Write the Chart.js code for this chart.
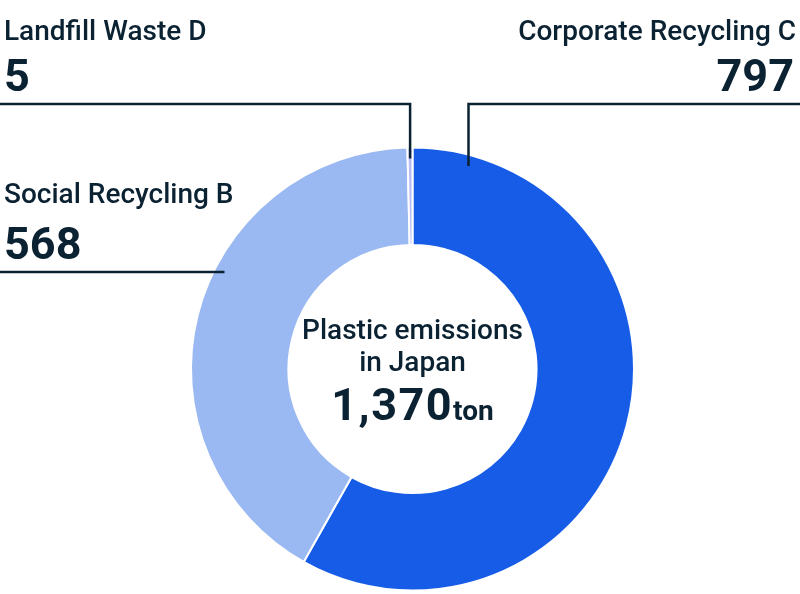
<!DOCTYPE html>
<html>
<head>
<meta charset="utf-8">
<script src="https://cdn.jsdelivr.net/npm/chart.js@4"></script>
<style>
html,body{margin:0;padding:0;background:#fff;}
#wrap{position:relative;width:800px;height:594px;}
</style>
</head>
<body>
<div id="wrap"><canvas id="c" width="800" height="594"></canvas></div>
<script>
const categories = ['Corporate Recycling C', 'Social Recycling B', 'Landfill Waste D'];
const values = [797, 568, 5];
const valueLabels = ['797', '568', '5'];
const colors = ['#175ce6', '#9ab8f2', '#b7bbf7'];
const centerLines = ['Plastic emissions', 'in Japan'];
const totalLabel = '1,370';
const unitLabel = 'ton';

const TEXT = '#0b2233';
const FONT = 'Roboto, "Noto Sans", sans-serif';

const annot = {
  id: 'annot',
  afterDraw(chart) {
    const ctx = chart.ctx;
    const arcs = chart.getDatasetMeta(0).data;
    const a0 = arcs[0];
    const cx = a0.x, cy = a0.y, R = a0.outerRadius;
    ctx.save();
    ctx.fillStyle = TEXT;
    ctx.strokeStyle = TEXT;
    ctx.lineWidth = 2.5;

    // Leader lines
    const land = arcs[2];
    const midL = (land.startAngle + land.endAngle) / 2;
    const lx = cx + Math.cos(midL) * (R - 12);
    ctx.beginPath();
    ctx.moveTo(0, 104);
    ctx.lineTo(lx, 104);
    ctx.lineTo(lx, cy - (R - 11));
    ctx.stroke();

    const corpX = cx + 56;
    ctx.beginPath();
    ctx.moveTo(800, 104);
    ctx.lineTo(corpX, 104);
    ctx.lineTo(corpX, cy - 203);
    ctx.stroke();

    ctx.beginPath();
    ctx.moveTo(0, 272);
    ctx.lineTo(cx - 188, 272);
    ctx.stroke();

    // Labels
    ctx.textBaseline = 'alphabetic';
    ctx.textAlign = 'left';
    ctx.font = '500 28px ' + FONT;
    ctx.fillText(categories[2], 4, 40);
    ctx.fillText(categories[1], 4, 203);
    ctx.font = '700 45px ' + FONT;
    ctx.fillText(valueLabels[2], 4, 91);
    ctx.fillText(valueLabels[1], 4, 259);

    ctx.textAlign = 'right';
    ctx.font = '500 28px ' + FONT;
    ctx.fillText(categories[0], 796, 40);
    ctx.font = '700 45px ' + FONT;
    ctx.fillText(valueLabels[0], 794, 91);

    // Center text
    ctx.textAlign = 'center';
    ctx.font = '500 28px ' + FONT;
    ctx.fillText(centerLines[0], cx, 339);
    ctx.fillText(centerLines[1], cx, 371);
    ctx.textAlign = 'left';
    ctx.font = '700 45px ' + FONT;
    ctx.letterSpacing = '1.5px';
    const w1 = ctx.measureText(totalLabel).width;
    ctx.letterSpacing = '0px';
    ctx.font = '700 28px ' + FONT;
    const w2 = ctx.measureText(unitLabel).width;
    const startX = cx - (w1 + w2) / 2;
    ctx.font = '700 45px ' + FONT;
    ctx.letterSpacing = '1.5px';
    ctx.fillText(totalLabel, startX, 420);
    ctx.letterSpacing = '0px';
    ctx.font = '700 28px ' + FONT;
    ctx.fillText(unitLabel, startX + w1, 420);
    ctx.restore();
  }
};

new Chart(document.getElementById('c'), {
  type: 'doughnut',
  data: {
    labels: categories,
    datasets: [{
      data: values,
      backgroundColor: colors,
      borderColor: '#ffffff',
      borderWidth: 2
    }]
  },
  options: {
    responsive: false,
    animation: false,
    cutout: '56%',
    rotation: 0,
    layout: { padding: { top: 146, bottom: 2, left: 190, right: 165 } },
    plugins: { legend: { display: false }, tooltip: { enabled: false } }
  },
  plugins: [annot]
});
</script>
</body>
</html>
